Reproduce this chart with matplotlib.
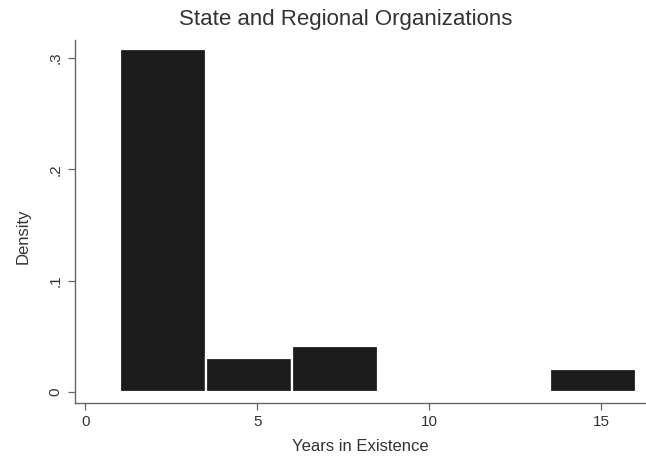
import matplotlib
matplotlib.use("Agg")
import matplotlib.pyplot as plt

plt.rcParams['font.family'] = ['Liberation Sans', 'DejaVu Sans']

# Histogram of years in existence (bin width 2.5, starting at 1)
bin_edges = [1.0, 3.5, 6.0, 8.5, 11.0, 13.5, 16.0]
density = [0.3077, 0.0308, 0.0410, 0.0, 0.0, 0.0205]

x_ticks = [0, 5, 10, 15]
x_tick_labels = ["0", "5", "10", "15"]
y_ticks = [0, 0.1, 0.2, 0.3]
y_tick_labels = ["0", ".1", ".2", ".3"]

title = "State and Regional Organizations"
x_label = "Years in Existence"
y_label = "Density"

W, H = 646, 458
fig = plt.figure(figsize=(W / 100, H / 100), dpi=100)
fig.patch.set_facecolor("white")

left, right, top, bottom = 75, 646, 40, 403
ax = fig.add_axes([left / W, 1 - bottom / H, (right - left) / W, (bottom - top) / H])

lefts = bin_edges[:-1]
widths = [b - a for a, b in zip(bin_edges[:-1], bin_edges[1:])]
ax.bar(lefts, density, width=widths, align="edge",
       color="#1b1b1b", edgecolor="white", linewidth=1.6)

ax.set_xlim(-0.3, 16.3)
ax.set_ylim(-0.0099, 0.316)

axis_col = "#666666"
text_col = "#333333"
for side in ("top", "right"):
    ax.spines[side].set_visible(False)
for side in ("left", "bottom"):
    ax.spines[side].set_color(axis_col)
    ax.spines[side].set_linewidth(1.0)

ax.set_xticks(x_ticks)
ax.set_xticklabels(x_tick_labels)
ax.set_yticks(y_ticks)
ax.set_yticklabels(y_tick_labels, rotation=90, va="center")
ax.tick_params(axis="both", colors=axis_col, labelcolor=text_col,
               length=5, width=0.9, labelsize=11, pad=4)

ax.set_xlabel(x_label, fontsize=12, color=text_col, labelpad=7)
ax.set_ylabel(y_label, fontsize=12, color=text_col, labelpad=13, y=0.46)
fig.text(0.535, 1 - 20 / H, title, ha="center", va="center",
         fontsize=16, color=text_col)

fig.savefig("out.png", dpi=100, facecolor="white")
